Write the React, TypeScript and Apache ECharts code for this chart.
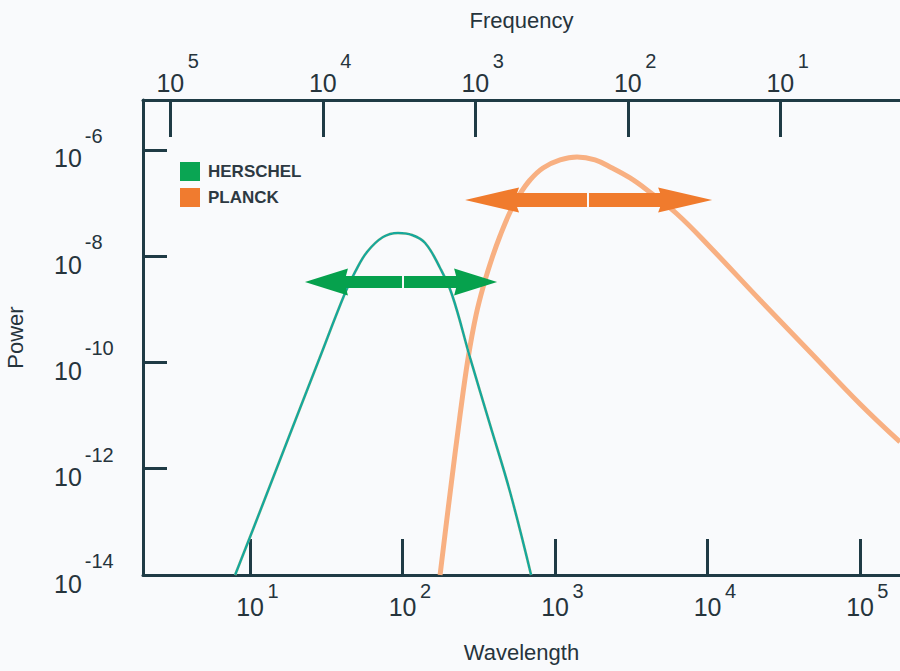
import React, { useEffect, useRef } from "react";
import * as echarts from "echarts";

// ---- Data (log10 values) ----
// Wavelength in micrometres (log10), power (log10)
const herschelLogWavelength = [0.902, 1.079, 1.262, 1.446, 1.623, 1.689, 1.767, 1.872, 1.970, 2.062, 2.148, 2.246, 2.325, 2.443, 2.574, 2.705, 2.843];
const herschelLogPower = [-14.0, -12.701, -11.346, -9.991, -8.692, -8.296, -7.92, -7.638, -7.562, -7.6, -7.751, -8.221, -8.729, -9.915, -11.176, -12.438, -14.0];

const planckLogWavelength = [2.246, 2.311, 2.377, 2.43, 2.482, 2.534, 2.587, 2.639, 2.705, 2.77, 2.836, 2.921, 3.033, 3.144, 3.262, 3.374, 3.492, 3.603, 3.8, 4.016, 4.344, 4.672, 5.0, 5.262];
const planckLogPower = [-14.0, -12.475, -10.988, -9.915, -9.106, -8.522, -8.033, -7.619, -7.167, -6.828, -6.565, -6.339, -6.188, -6.132, -6.188, -6.339, -6.527, -6.753, -7.205, -7.826, -8.824, -9.802, -10.781, -11.496];

// Band arrows: [left tip log λ, centre log λ, right tip log λ, log power]
const herschelBand = [1.36, 2.003, 2.62, -8.485];
const planckBand = [2.41, 3.216, 4.03, -6.941];

// Tick exponents
const wavelengthExponents = [1, 2, 3, 4, 5];
const frequencyExponents = [5, 4, 3, 2, 1];
const powerExponents = [-14, -12, -10, -8, -6];

// Axis ranges (log10)
const wavelengthRange = [0.298, 5.262];
const powerRange = [-14, -5.059];
// frequency = c / wavelength  (c = 3e5 in µm·GHz)
const logC = Math.log10(3e5);

const seriesNames = ["HERSCHEL", "PLANCK"];

// ---- Styles ----
const FONT = '"Liberation Sans", Arial, Helvetica, sans-serif';
const INK = "#26343c";
const AXIS = "#1f3b45";
const LEGEND_COLORS = ["#0aa553", "#f07b2f"];
const LINE_COLORS = ["#12a89c", "#f8b082"];
const ARROW_STYLES = [
  { color: "#06a14d", H: 43, A: 13.5, S: 6, gap: 1 },
  { color: "#f07b2d", H: 54, A: 12.5, S: 7, gap: 1 },
];

const axisLineStyle = { color: AXIS, width: 3 };

function xRich(padTop: number, padBottom: number) {
  return {
    s: { width: 15, fontSize: 20 },
    b: { fontSize: 25, color: INK, padding: [padTop, 0, 0, 0] },
    e: { fontSize: 20, color: INK, width: 12, padding: [0, 0, padBottom, 3] },
  };
}

export default function App() {
  const ref = useRef<HTMLDivElement>(null);

  useEffect(() => {
    if (!ref.current) return;
    const chart = echarts.init(ref.current, null, { renderer: "svg" });

    const option: any = {
      animation: false,
      backgroundColor: "#f9fafc",
      textStyle: { fontFamily: FONT },
      grid: { left: 143, right: 0, top: 100, bottom: 96, containLabel: false, outerBoundsMode: "none" },
      legend: {
        orient: "vertical",
        left: 180,
        top: 162,
        padding: 0,
        itemWidth: 20,
        itemHeight: 19,
        itemGap: 7,
        selectedMode: false,
        textStyle: { fontSize: 17, fontWeight: "bold", color: "#2d3942", padding: [0, 0, 0, 3], fontFamily: FONT },
        data: seriesNames.map((n, i) => ({
          name: n,
          icon: "rect",
          itemStyle: { color: LEGEND_COLORS[i], borderWidth: 0 },
        })),
      },
      xAxis: [
        {
          type: "value",
          position: "bottom",
          min: wavelengthRange[0],
          max: wavelengthRange[1],
          name: "Wavelength",
          nameLocation: "middle",
          nameGap: 66,
          nameTextStyle: { fontSize: 22, color: INK, fontFamily: FONT },
          axisLine: { show: true, onZero: false, lineStyle: axisLineStyle },
          axisTick: { show: true, inside: true, length: 36, customValues: wavelengthExponents, lineStyle: { color: AXIS, width: 3 } },
          axisLabel: {
            customValues: wavelengthExponents,
            margin: 3,
            formatter: (v: number) => `{s|}{b|10}{e|${Math.round(v)}}`,
            rich: xRich(16, 16),
          },
          splitLine: { show: false },
        },
        {
          type: "value",
          position: "top",
          inverse: true,
          min: logC - wavelengthRange[1],
          max: logC - wavelengthRange[0],
          name: "Frequency",
          nameLocation: "middle",
          nameGap: 69,
          nameTextStyle: { fontSize: 22, color: INK, fontFamily: FONT },
          axisLine: { show: true, onZero: false, lineStyle: axisLineStyle },
          axisTick: { show: true, inside: true, length: 37, customValues: frequencyExponents, lineStyle: { color: AXIS, width: 3 } },
          axisLabel: {
            customValues: frequencyExponents,
            margin: 5,
            formatter: (v: number) => `{s|}{b|10}{e|${Math.round(v)}}`,
            rich: xRich(22, 22),
          },
          splitLine: { show: false },
        },
      ],
      yAxis: {
        type: "value",
        min: powerRange[0],
        max: powerRange[1],
        name: "Power",
        nameLocation: "middle",
        nameGap: 117,
        nameRotate: 90,
        nameTextStyle: { fontSize: 22, color: INK, fontFamily: FONT },
        axisLine: { show: true, onZero: false, lineStyle: axisLineStyle },
        axisTick: { show: true, inside: true, length: 24, customValues: powerExponents, lineStyle: { color: AXIS, width: 3 } },
        axisLabel: {
          customValues: powerExponents,
          align: "left",
          margin: 89,
          formatter: (v: number) => `{b|10}{e|${Math.round(v)}}`,
          rich: {
            b: { fontSize: 25, color: INK, padding: [17, 0, 0, 0] },
            e: { fontSize: 20, color: INK, padding: [0, 0, 28, 3] },
          },
        },
        splitLine: { show: false },
      },
      series: [
        {
          name: seriesNames[1],
          type: "line",
          xAxisIndex: 0,
          data: planckLogWavelength.map((x, i) => [x, planckLogPower[i]]),
          symbol: "none",
          smooth: 0.4,
          lineStyle: { color: LINE_COLORS[1], width: 5 },
          itemStyle: { color: LINE_COLORS[1] },
          z: 2,
        },
        {
          name: seriesNames[0],
          type: "line",
          xAxisIndex: 0,
          data: herschelLogWavelength.map((x, i) => [x, herschelLogPower[i]]),
          symbol: "none",
          smooth: 0.4,
          lineStyle: { color: LINE_COLORS[0], width: 2.6, shadowColor: "rgba(230,220,80,0.6)", shadowBlur: 1 },
          itemStyle: { color: LINE_COLORS[0] },
          z: 3,
        },
        {
          name: "bands",
          type: "custom",
          xAxisIndex: 0,
          silent: true,
          z: 5,
          encode: { x: [0, 1, 2], y: 3 },
          data: [herschelBand, planckBand],
          renderItem: (params: any, api: any) => {
            const st = ARROW_STYLES[params.dataIndex];
            const pL = api.coord([api.value(0), api.value(3)]);
            const pG = api.coord([api.value(1), api.value(3)]);
            const pR = api.coord([api.value(2), api.value(3)]);
            const y = pL[1];
            const { H, A, S, gap, color } = st;
            const notch = 2;
            const left = [
              [pL[0], y],
              [pL[0] + H, y - A],
              [pL[0] + H - notch, y - S],
              [pG[0] - gap, y - S],
              [pG[0] - gap, y + S],
              [pL[0] + H - notch, y + S],
              [pL[0] + H, y + A],
            ];
            const right = [
              [pR[0], y],
              [pR[0] - H, y - A],
              [pR[0] - H + notch, y - S],
              [pG[0] + gap, y - S],
              [pG[0] + gap, y + S],
              [pR[0] - H + notch, y + S],
              [pR[0] - H, y + A],
            ];
            return {
              type: "group",
              children: [
                { type: "polygon", shape: { points: left }, style: { fill: color } },
                { type: "polygon", shape: { points: right }, style: { fill: color } },
              ],
            };
          },
        },
      ],
    };

    chart.setOption(option);
    return () => chart.dispose();
  }, []);

  return (
    <div
      ref={ref}
      style={{ position: "absolute", left: 0, top: 0, width: 900, height: 671 }}
    />
  );
}
